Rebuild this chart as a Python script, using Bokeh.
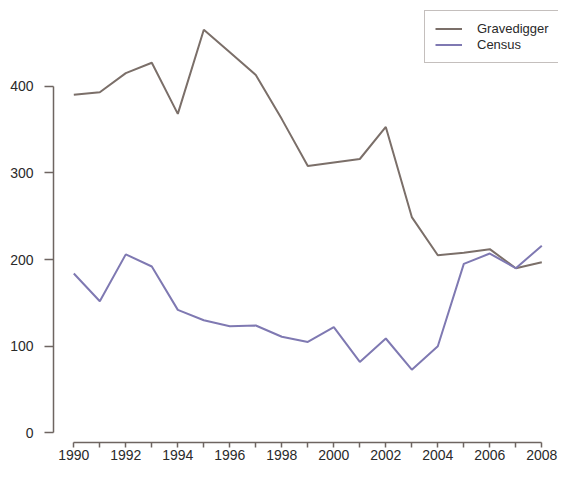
from bokeh.plotting import figure
from bokeh.models import LinearAxis, FixedTicker, Legend, LegendItem, Range1d
from bokeh.embed import file_html
from bokeh.resources import INLINE

years = list(range(1990, 2009))
gravedigger = [390, 393, 415, 427, 368, 465, 439, 413, 362, 308, 312, 316, 353, 249, 205, 208, 212, 190, 197]
census = [184, 152, 206, 192, 142, 130, 123, 124, 111, 105, 122, 82, 109, 73, 100, 195, 207, 190, 216]
x_ticks = years
x_tick_labels = [str(y) if y % 2 == 0 else "" for y in years]
y_ticks = [0, 100, 200, 300, 400]

FONT = "Liberation Sans"
AXIS_COL = "#6e6561"
TEXT_COL = "#2a2a2a"

p = figure(width=558, height=465, output_backend="svg", toolbar_location=None,
           x_range=Range1d(1989.219, 2008.642), y_range=Range1d(-10.96, 498.8),
           x_axis_type=None, y_axis_type=None,
           min_border_left=53, min_border_right=0, min_border_top=0, min_border_bottom=23)
p.outline_line_color = None
p.xgrid.visible = False
p.ygrid.visible = False
p.background_fill_color = "white"

xaxis = LinearAxis(ticker=FixedTicker(ticks=x_ticks), bounds=(years[0], years[-1]),
                   major_label_overrides={y: l for y, l in zip(x_ticks, x_tick_labels)})
yaxis = LinearAxis(ticker=FixedTicker(ticks=y_ticks), bounds=(y_ticks[0], y_ticks[-1]))
for ax in (xaxis, yaxis):
    ax.axis_line_color = AXIS_COL
    ax.axis_line_width = 1.5
    ax.major_tick_line_color = AXIS_COL
    ax.major_tick_line_width = 1.5
    ax.minor_tick_line_color = None
    ax.major_tick_in = 0
    ax.major_label_text_font = FONT
    ax.major_label_text_font_size = "14px"
    ax.major_label_text_color = TEXT_COL
xaxis.major_tick_out = 5
xaxis.major_label_standoff = 2
yaxis.major_tick_out = 9
yaxis.major_label_standoff = 11
p.add_layout(xaxis, "below")
p.add_layout(yaxis, "left")

r1 = p.line(years, gravedigger, line_color="#7b6f69", line_width=2)
r2 = p.line(years, census, line_color="#7f79b2", line_width=2)

legend = Legend(items=[LegendItem(label="Gravedigger", renderers=[r1]),
                       LegendItem(label="Census", renderers=[r2])],
                location=(371, 379), orientation="vertical")
legend.border_line_color = "#8a807b"
legend.border_line_width = 1.5
legend.background_fill_color = "white"
legend.background_fill_alpha = 1
legend.label_text_font = FONT
legend.label_text_font_size = "13px"
legend.label_text_color = TEXT_COL
legend.glyph_width = 27
legend.glyph_height = 15
legend.label_height = 15
legend.label_standoff = 15
legend.spacing = 1
legend.padding = 10
legend.margin = 0
p.add_layout(legend, "center")

open("out.html", "w").write(file_html(p, INLINE))
